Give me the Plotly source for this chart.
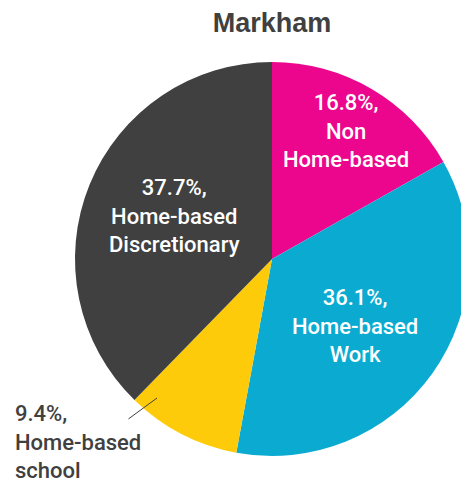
import math
import plotly.graph_objects as go

# ---- data ----
labels = ["Non<br>Home-based", "Home-based<br>Work", "Home-based<br>school", "Home-based<br>Discretionary"]
values = [16.8, 36.1, 9.4, 37.7]
colors = ["#EC068D", "#0BABD1", "#FECB0A", "#404040"]
title_text = "Markham"

# ---- layout geometry (pixels) ----
W, H = 469, 483
CX, CY, R = 272, 259, 197
ML, MT = CX - R, CY - R
MB = H - MT - 2 * R

FONT = "Roboto, Liberation Sans, Arial, sans-serif"


def to_paper(px, py):
    return (px - ML) / (2 * R), 1 - (py - MT) / (2 * R)


fig = go.Figure(go.Pie(
    values=values,
    labels=[l.replace("<br>", " ") for l in labels],
    marker=dict(colors=colors, line=dict(width=0)),
    sort=False,
    direction="clockwise",
    rotation=0,
    textinfo="none",
    hoverinfo="label+percent",
    showlegend=False,
))

# label placement per slice: radius fraction (None -> outside label), angular nudge (deg)
label_r = [0.75, 0.54, None, 0.54]
label_da = [0.0, 3.5, 0.0, 1.5]
total = sum(values)
cum = 0
annotations = []
for lab, v, rf, da in zip(labels, values, label_r, label_da):
    mid = (cum + v / 2) / total * 2 * math.pi + math.radians(da)
    cum += v
    txt = f"{v:.1f}%,<br>{lab}"
    if rf is not None:
        px = CX + rf * R * math.sin(mid)
        py = CY - rf * R * math.cos(mid)
        x, y = to_paper(px, py)
        annotations.append(dict(
            x=x, y=y, xref="paper", yref="paper",
            text=txt, showarrow=False, align="center",
            xanchor="center", yanchor="middle",
            font=dict(family=FONT, size=22, color="white", weight=500),
        ))
    else:
        # outside label with short leader line
        ex, ey = 157, 398
        x, y = to_paper(ex, ey)
        annotations.append(dict(
            x=x, y=y, xref="paper", yref="paper",
            ax=127 - ex, ay=420 - ey, axref="pixel", ayref="pixel",
            text="", showarrow=True, arrowhead=0, arrowwidth=1, arrowcolor="#404040",
            standoff=0, startstandoff=0,
        ))
        x, y = to_paper(13, 442)
        annotations.append(dict(
            x=x, y=y, xref="paper", yref="paper",
            text=txt, showarrow=False, align="left",
            xanchor="left", yanchor="middle",
            font=dict(family=FONT, size=22, color="#404040", weight=500),
        ))

tx, _ = to_paper(CX, 0)
fig.update_layout(
    width=W, height=H,
    margin=dict(l=ML, r=0, t=MT, b=MB, pad=0),
    paper_bgcolor="white",
    plot_bgcolor="white",
    title=dict(text=f"<b>{title_text}</b>", x=tx, xanchor="center", xref="paper",
               y=1 - 23 / H, yanchor="middle", yref="container",
               font=dict(family="Liberation Sans, Arial, sans-serif", size=27, color="#404040")),
    annotations=annotations,
)

fig.write_html("out.html", post_script="document.body.style.overflow='hidden';document.documentElement.style.overflow='hidden';document.body.style.margin='0';")
